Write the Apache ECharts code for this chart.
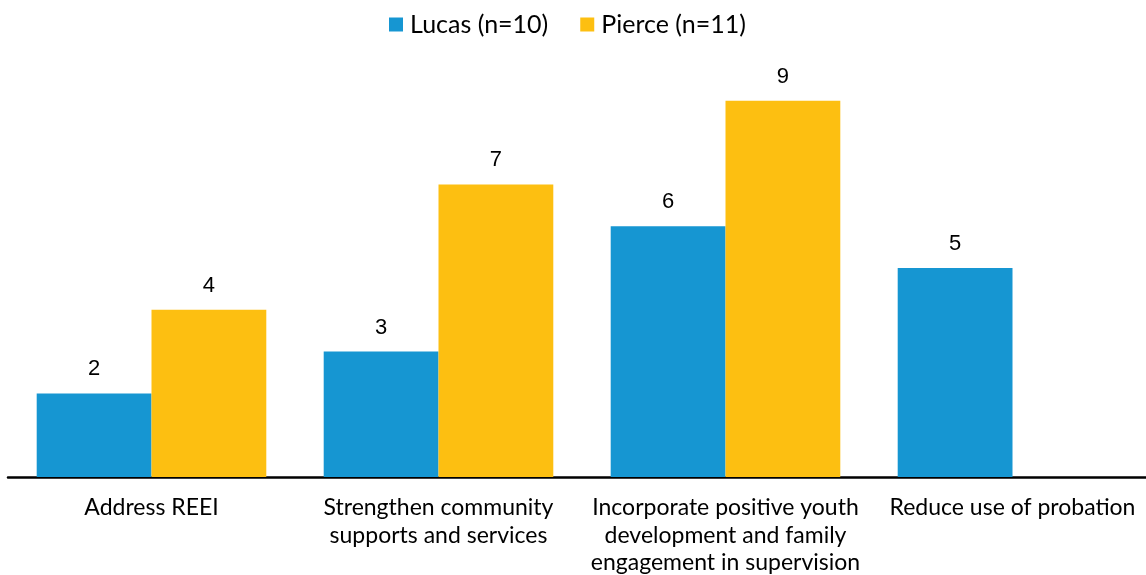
<!DOCTYPE html>
<html>
<head>
<meta charset="utf-8">
<script src="https://cdn.jsdelivr.net/npm/echarts@6/dist/echarts.min.js"></script>
<style>
  html, body { margin: 0; padding: 0; background: #fff; }
  #chart { width: 1146px; height: 575px; }
</style>
</head>
<body>
<div id="chart"></div>
<script>
// Strategy categories (line breaks as they wrap under each group)
const categories = [
  'Address REEI',
  'Strengthen community\nsupports and services',
  'Incorporate positive youth\ndevelopment and family\nengagement in supervision',
  'Reduce use of probation'
];
const seriesNames = ['Lucas (n=10)', 'Pierce (n=11)'];
const lucasValues = [2, 3, 6, 5];
const pierceValues = [4, 7, 9, 0];

const FONT = 'Lato, "Noto Sans", sans-serif';
const chart = echarts.init(document.getElementById('chart'));

const valueLabel = {
  show: true,
  position: 'top',
  distance: 13,
  color: '#000',
  fontFamily: '"Liberation Sans", Arial, sans-serif',
  fontSize: 22,
  formatter: p => (p.value ? String(p.value) : '')
};

chart.setOption({
  animation: false,
  backgroundColor: '#fff',
  legend: {
    top: 7,
    left: 384,
    itemWidth: 14,
    itemHeight: 14,
    itemGap: 32,
    icon: 'rect',
    textStyle: { fontFamily: FONT, fontSize: 25, color: '#000', padding: [0, 0, 0, 2] },
    data: seriesNames
  },
  // The plot runs slightly past the right edge so the last group sits like the others
  grid: {
    left: 8, width: 1148, top: 59, height: 418,
    containLabel: false, outerBoundsMode: 'none'
  },
  xAxis: {
    type: 'category',
    data: categories,
    axisLine: { lineStyle: { color: '#000', width: 2.5 } },
    axisTick: { show: false },
    axisLabel: {
      interval: 0,
      margin: 17,
      color: '#000',
      fontFamily: FONT,
      fontSize: 23,
      lineHeight: 27.5
    }
  },
  yAxis: {
    type: 'value',
    min: 0,
    max: 10,
    show: false,
    splitLine: { show: false }
  },
  series: [
    {
      name: seriesNames[0],
      type: 'bar',
      data: lucasValues,
      barGap: '0%',
      barCategoryGap: '20%',
      itemStyle: { color: '#1696D2' },
      label: valueLabel
    },
    {
      name: seriesNames[1],
      type: 'bar',
      data: pierceValues,
      barGap: '0%',
      barCategoryGap: '20%',
      itemStyle: { color: '#FDBF11' },
      label: valueLabel
    }
  ]
});
</script>
</body>
</html>
